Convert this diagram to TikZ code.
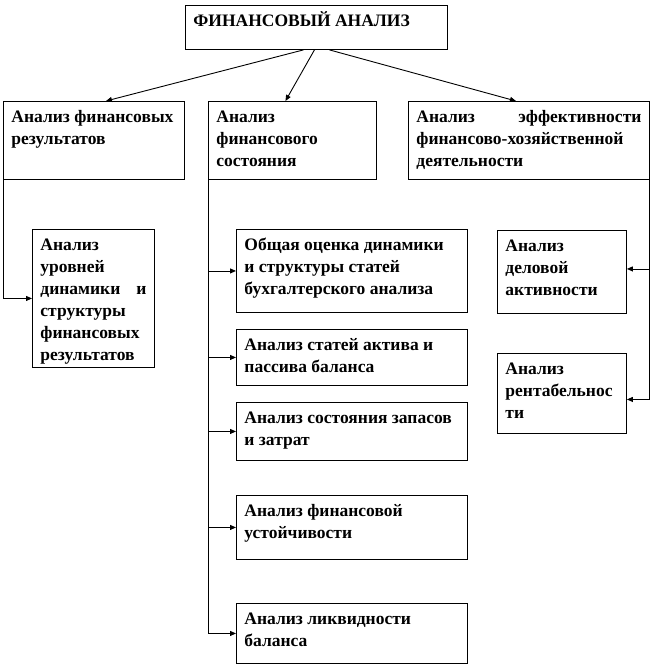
\documentclass[tikz,border=0pt]{standalone}
\usepackage{fontspec}
\setmainfont{Liberation Serif}
\usetikzlibrary{arrows.meta}
\newcommand{\boxtext}[3]{\parbox[c][#2][t]{#1}{\rule{0pt}{21pt}#3}}
\tikzset{
  block/.style={
    draw=black, line width=0.9pt, fill=white, anchor=north west,
    inner xsep=8pt, inner ysep=0pt,
    font=\fontsize{17.5}{22}\selectfont\bfseries
  },
  link/.style={
    draw=black, line width=0.9pt, -{Triangle[length=6pt,width=5pt]}
  },
  trunk/.style={
    draw=black, line width=0.9pt
  }
}

\begin{document}
\begin{tikzpicture}[x=1pt, y=-1pt]
\useasboundingbox[fill=white] (0,0) rectangle (652,666);

% ------------------------------------------------
% верхний блок и три раздела анализа
% ------------------------------------------------
\node[block] (fin)  at (185,5)   {\boxtext{246pt}{44pt}{ФИНАНСОВЫЙ АНАЛИЗ}};
\node[block] (res)  at (3,101)   {\boxtext{165pt}{78pt}{Анализ финансовых\\результатов}};
\node[block] (sost) at (208,101) {\boxtext{152pt}{78pt}{Анализ\\финансового\\состояния}};
\node[block] (eff)  at (408,101) {\boxtext{225pt}{78pt}{Анализ \hfill эффективности\\финансово-хозяйственной\\деятельности}};

\draw[link] ([xshift=-13pt]fin.south) -- ([xshift=12pt]res.north);
\draw[link] ([xshift=-2pt]fin.south)  -- ([xshift=-7pt]sost.north);
\draw[link] ([xshift=13pt]fin.south)  -- ([xshift=-13pt]eff.north);

% ------------------------------------------------
% левая ветвь: финансовые результаты
% ------------------------------------------------
\node[block] (lvl) at (32,229) {\boxtext{106pt}{138pt}{Анализ\\уровней\\динамики \hfill и\\структуры\\финансовых\\результатов}};

\draw[link] (res.south west) |- (lvl.west);

% ------------------------------------------------
% средняя ветвь: финансовое состояние
% ------------------------------------------------
\node[block] (obsh) at (236,229) {\boxtext{215pt}{83pt}{Общая оценка динамики\\и структуры статей\\бухгалтерского анализа}};
\node[block] (akt)  at (236,329) {\boxtext{215pt}{56pt}{Анализ статей актива и\\пассива баланса}};
\node[block] (zap)  at (236,402) {\boxtext{215pt}{58pt}{Анализ состояния запасов\\и затрат}};
\node[block] (ust)  at (236,495) {\boxtext{215pt}{64pt}{Анализ финансовой\\устойчивости}};
\node[block] (likv) at (236,603) {\boxtext{215pt}{60pt}{Анализ ликвидности\\баланса}};

\draw[link] (sost.south west) |- (likv.west);
\foreach \b in {obsh,akt,zap,ust}
  \draw[link] (\b.west -| sost.south west) -- (\b.west);

% ------------------------------------------------
% правая ветвь: эффективность деятельности
% ------------------------------------------------
\node[block] (del)  at (497,230) {\boxtext{113pt}{83pt}{Анализ\\деловой\\активности}};
\node[block] (rent) at (497,353) {\boxtext{113pt}{80pt}{Анализ\\рентабельнос\\ти}};

\draw[link] (eff.south east) |- ([yshift=-6pt]rent.east);
\draw[link] ([yshift=3pt]del.east -| eff.south east) -- ([yshift=3pt]del.east);
\end{tikzpicture}
\end{document}
